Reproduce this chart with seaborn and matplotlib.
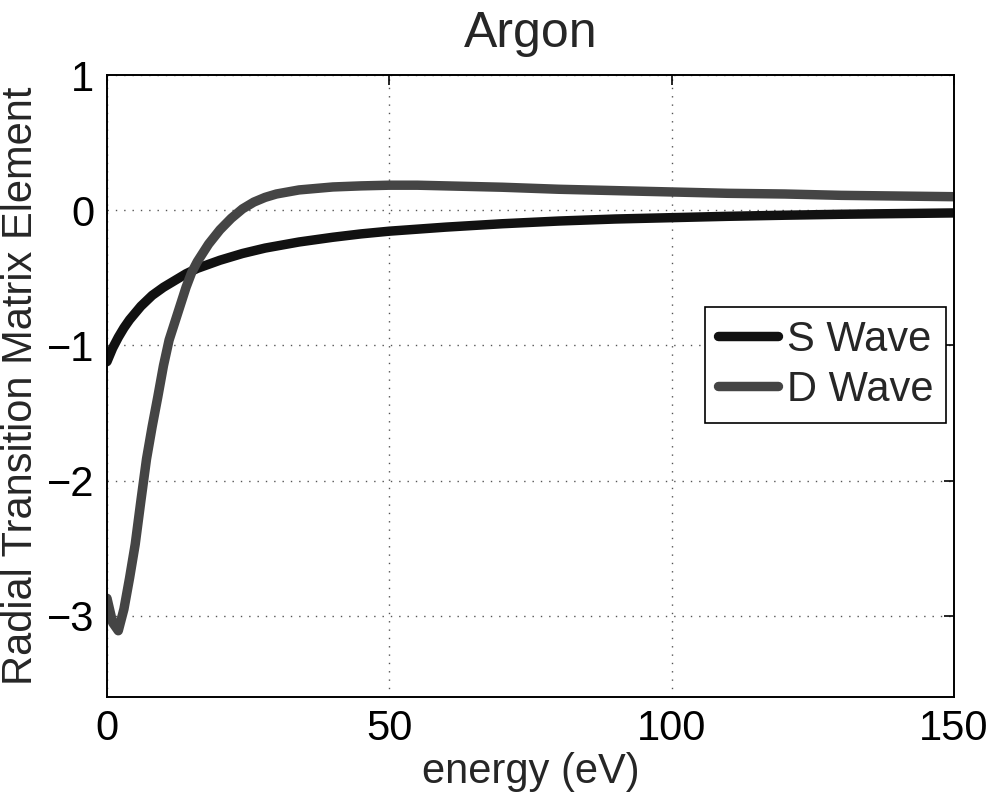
import numpy as np
import pandas as pd
import matplotlib
matplotlib.use("Agg")
import matplotlib.pyplot as plt
import seaborn as sns

# Photoionisation matrix elements for argon, sampled on an energy grid (eV)
energy = [0, 1, 2, 3, 4, 5, 6, 7, 8, 9, 10, 11, 12, 13, 14, 15, 16, 18, 20,
          22, 24, 26, 28, 30, 34, 40, 45, 50, 55, 60, 70, 80, 90, 100, 110,
          120, 130, 140, 150]
s_wave = [-1.12, -1.02, -0.94, -0.87, -0.81, -0.76, -0.71, -0.67, -0.63,
          -0.60, -0.57, -0.545, -0.52, -0.495, -0.47, -0.45, -0.43, -0.40,
          -0.37, -0.345, -0.32, -0.30, -0.28, -0.265, -0.235, -0.20, -0.175,
          -0.155, -0.14, -0.125, -0.10, -0.08, -0.065, -0.055, -0.045,
          -0.037, -0.03, -0.025, -0.02]
d_wave = [-2.87, -3.05, -3.11, -2.95, -2.72, -2.47, -2.15, -1.84, -1.60,
          -1.38, -1.15, -0.96, -0.83, -0.70, -0.57, -0.46, -0.38, -0.25,
          -0.145, -0.06, 0.01, 0.06, 0.095, 0.12, 0.15, 0.172, 0.18, 0.185,
          0.185, 0.18, 0.17, 0.155, 0.145, 0.135, 0.125, 0.12, 0.11, 0.105,
          0.10]
series_names = ["S Wave", "D Wave"]
series_colors = ["#111111", "#454545"]

xticks = [0, 50, 100, 150]
yticks = [-3, -2, -1, 0, 1]

df = pd.DataFrame({
    "energy": energy * 2,
    "value": s_wave + d_wave,
    "wave": [series_names[0]] * len(energy) + [series_names[1]] * len(energy),
})

sns.set_theme(style="white")
plt.rcParams["font.family"] = ["Liberation Sans", "DejaVu Sans"]
plt.rcParams["axes.unicode_minus"] = True

fig = plt.figure(figsize=(9.87, 7.98), dpi=100)
ax = fig.add_axes([0.1084, 0.1266, 0.8582, 0.7794])

sns.lineplot(data=df, x="energy", y="value", hue="wave",
             palette=dict(zip(series_names, series_colors)),
             linewidth=6.8, ax=ax, legend=True)

ax.set_xlim(0, 150)
ax.set_ylim(-3.6, 1)
ax.set_xticks(xticks)
ax.set_yticks(yticks)
ax.set_xticklabels([str(v) for v in xticks])
ax.set_yticklabels([str(v).replace("-", "\u2212") for v in yticks])

fs = 30
ax.tick_params(axis="both", which="both", direction="in", length=7,
               width=1.2, colors="black", labelsize=fs, top=True, right=True,
               pad=9)
ax.grid(True, linestyle=(0, (1, 5)), color="#555555", linewidth=1.0)
for sp in ax.spines.values():
    sp.set_color("black")
    sp.set_linewidth(1.4)

ax.set_xlabel("energy (eV)", fontsize=fs, labelpad=2)
ax.set_ylabel("Radial Transition Matrix Element", fontsize=fs, labelpad=4)
ax.set_title("Argon", fontsize=36, pad=20)

leg = ax.legend(loc="center right", bbox_to_anchor=(0.99, 0.534),
                fontsize=fs, frameon=True, fancybox=False, framealpha=1,
                edgecolor="black", handlelength=1.45, handletextpad=0.2,
                borderpad=0.3, labelspacing=0.25, borderaxespad=0.0)
leg.get_frame().set_linewidth(1.2)
for line in leg.get_lines():
    line.set_linewidth(6.8)

fig.savefig("out.png", dpi=100)
